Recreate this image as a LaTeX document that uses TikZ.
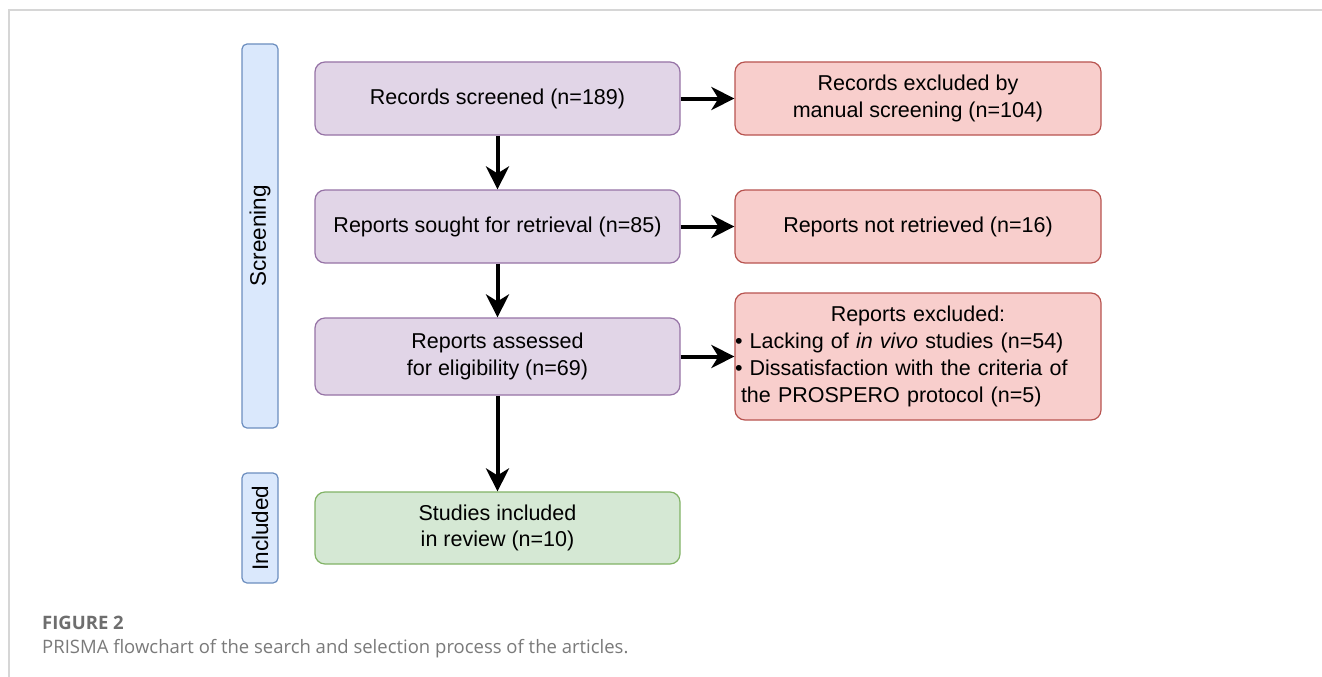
\documentclass[tikz,border=0pt]{standalone}
\usepackage{fontspec}
\setmainfont{Liberation Sans}
\newfontfamily\capfont{Open Sans}
\usetikzlibrary{arrows.meta}
\definecolor{pfill}{HTML}{E1D5E7}\definecolor{pdraw}{HTML}{9673A6}
\definecolor{rfill}{HTML}{F8CECC}\definecolor{rdraw}{HTML}{B85450}
\definecolor{gfill}{HTML}{D5E8D4}\definecolor{gdraw}{HTML}{82B366}
\definecolor{bfill}{HTML}{DAE8FC}\definecolor{bdraw}{HTML}{6C8EBF}
\definecolor{framecol}{HTML}{D6D6D6}
\definecolor{capgray}{HTML}{6E6E6E}
\definecolor{txtgray}{HTML}{7A7A7A}
\begin{document}
\begin{tikzpicture}[x=1pt,y=-1pt,
  font=\fontsize{21.5}{26.8}\selectfont,
  box/.style={rounded corners=10pt, line width=1.2pt, align=center, inner sep=2pt, minimum width=365pt},
  pbox/.style={box, fill=pfill, draw=pdraw},
  rbox/.style={box, fill=rfill, draw=rdraw},
  gbox/.style={box, fill=gfill, draw=gdraw},
  lane/.style={rounded corners=5pt, line width=1.2pt, fill=bfill, draw=bdraw, minimum height=36pt, inner sep=0pt, rotate=90, font=\fontsize{22.5}{27}\selectfont},
  arr/.style={line width=4pt, -{Stealth[length=23pt,width=23pt,inset=7pt]}},
  capstyle/.style={anchor=base west, inner sep=0pt}
]
\useasboundingbox (0,0) rectangle (1322,677);
\fill[white] (0,0) rectangle (1322,677);
\draw[framecol, line width=1.5pt] (9,677) -- (9,10) -- (1322,10);

\node[lane, minimum width=384pt] (screening) at (260,236) {Screening};
\node[lane, minimum width=110pt] (included) at (260,528) {Included};

\node[pbox, minimum height=73pt] (p1) at (497.5,98.5) {Records screened (n=189)};
\node[pbox, minimum height=73pt] (p2) at (497.5,226.5) {Reports sought for retrieval (n=85)};
\node[pbox, minimum height=77pt] (p3) at (497.5,356.5) {Reports assessed\\for eligibility (n=69)};
\node[gbox, minimum height=72pt] (g1) at (497.5,528) {Studies included\\in review (n=10)};

\node[rbox, minimum width=366pt, minimum height=73pt] (r1) at (918,98.5) {Records excluded by\\manual screening (n=104)};
\node[rbox, minimum width=366pt, minimum height=73pt] (r2) at (918,226.5) {Reports not retrieved (n=16)};
\node[rbox, minimum width=366pt, minimum height=127pt, text width=366pt, align=left, inner xsep=0pt] (r3) at (918,356.5)
  {\makebox[\linewidth][c]{Reports excluded:}\\
   • Lacking of \textit{in vivo} studies (n=54)\\
   • Dissatisfaction with the criteria of\\
   \hspace*{6pt}the PROSPERO protocol (n=5)};

\draw[arr] (p1.south) -- (p2.north);
\draw[arr] (p2.south) -- (p3.north);
\draw[arr] (p3.south) -- (g1.north);
\draw[arr] (p1.east) -- (r1.west);
\draw[arr] (p2.east) -- (r2.west);
\draw[arr] (p3.east) -- (r3.west);

\node[capstyle, text=capgray, font=\capfont\bfseries\fontsize{18.5}{22}\selectfont] (figlabel) at (42,629) {FIGURE 2};
\node[capstyle, text=txtgray, font=\capfont\fontsize{18.5}{22}\selectfont] (figcap) at (42,653) {PRISMA flowchart of the search and selection process of the articles.};
\end{tikzpicture}
\end{document}
